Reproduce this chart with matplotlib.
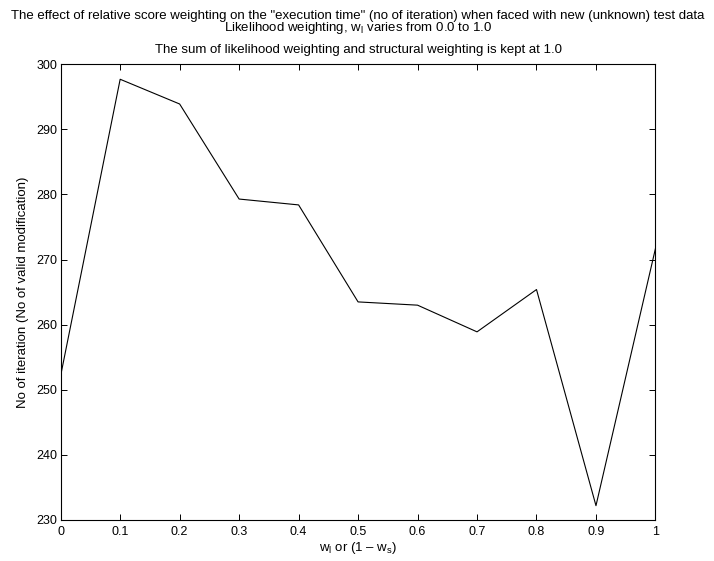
import matplotlib
matplotlib.use("Agg")
import matplotlib.pyplot as plt

plt.rcParams['font.family'] = ['Liberation Sans', 'DejaVu Sans']
plt.rcParams['mathtext.fontset'] = 'custom'
plt.rcParams['mathtext.rm'] = 'Liberation Sans'
plt.rcParams['mathtext.it'] = 'Liberation Sans'
plt.rcParams['mathtext.default'] = 'regular'

weights = [0.0, 0.1, 0.2, 0.3, 0.4, 0.5, 0.6, 0.7, 0.8, 0.9, 1.0]
iterations = [252.2, 297.7, 293.9, 279.3, 278.4, 263.5, 263.0, 258.9, 265.4, 232.2, 271.7]
xticks = [0, 0.1, 0.2, 0.3, 0.4, 0.5, 0.6, 0.7, 0.8, 0.9, 1]
xticklabels = ['0', '0.1', '0.2', '0.3', '0.4', '0.5', '0.6', '0.7', '0.8', '0.9', '1']
yticks = [230, 240, 250, 260, 270, 280, 290, 300]

FS = 9.55
fig = plt.figure(figsize=(7.14, 5.61), dpi=100)
ax = fig.add_axes([0.085, 0.0731, 0.833, 0.8123])
ax.plot(weights, iterations, color='black', linewidth=0.8)
ax.set_xlim(0, 1)
ax.set_ylim(230, 300)
ax.set_xticks(xticks)
ax.set_xticklabels(xticklabels)
ax.set_yticks(yticks)
ax.tick_params(direction='in', top=True, right=True, length=4, width=0.7,
               labelsize=9)
ax.tick_params(axis='x', pad=4.5)
ax.tick_params(axis='y', pad=2.5)
for s in ax.spines.values():
    s.set_linewidth(0.8)

ax.set_xlabel('$w_l$ or (1 \u2013 $w_s$)', fontsize=FS, labelpad=1)
ax.set_ylabel('No of iteration (No of valid modification)', fontsize=FS, labelpad=5)

cx = (0.085 + 0.918) / 2
fig.text(cx, 1 - 19/561, 'The effect of relative score weighting on the "execution time" (no of iteration) when faced with new (unknown) test data',
         ha='center', va='baseline', fontsize=FS)
fig.text(cx, 1 - 31.5/561, 'Likelihood weighting, $w_l$ varies from 0.0 to 1.0',
         ha='center', va='baseline', fontsize=FS)
fig.text(cx, 1 - 53/561, 'The sum of likelihood weighting and structural weighting is kept at 1.0',
         ha='center', va='baseline', fontsize=FS)

fig.savefig('out.png', dpi=100)
